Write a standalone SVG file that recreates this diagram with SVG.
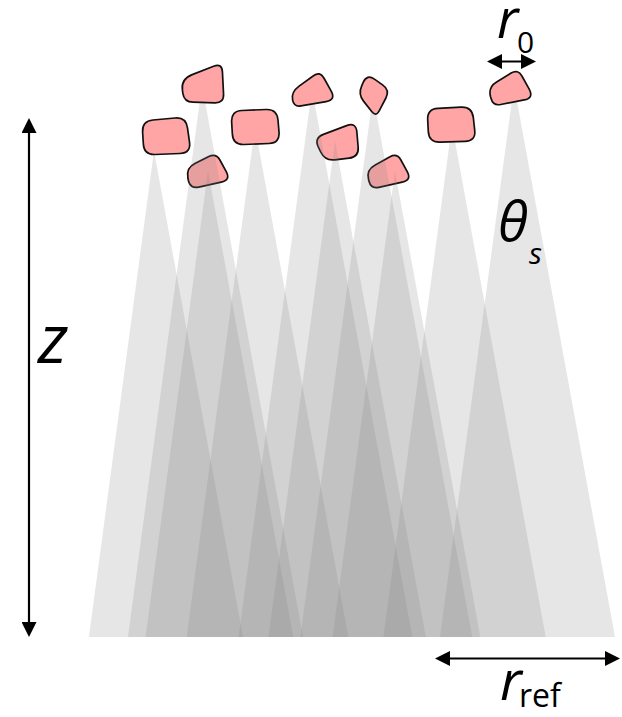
<svg xmlns="http://www.w3.org/2000/svg" width="622" height="717" viewBox="0 0 622 717">
<style>
.cone{fill:#808080;fill-opacity:0.2;stroke:none}
.blob{fill:#ffa5a5;stroke:#111;stroke-width:1.7;stroke-linejoin:round}
.dim{stroke:#000;stroke-width:2.2;fill:none}
.lbl{font-family:"Open Sans","DejaVu Sans",sans-serif;fill:#000}
.it{font-style:italic}
</style>
<defs>
<marker id="ah" viewBox="0 0 15 15" refX="12" refY="7.5" markerWidth="15" markerHeight="15" orient="auto-start-reverse" markerUnits="userSpaceOnUse">
<path d="M0,0 L15,7.5 L0,15 Z" fill="#000"/>
</marker>
</defs>
<rect width="622" height="717" fill="#fff"/>
<g id="blobs-under">
<g id="blob-D"><path class="blob" d="M187.9,177.8 Q186,168 194.9,163.5 L208.8,156.6 Q216,153 219.9,160 L226.1,171.3 Q231,180 221.2,182.1 L198.8,187.1 Q190,189 188.3,180.2 Z"/></g>
<g id="blob-G"><path class="blob" d="M318.3,147 Q314,138 323.4,134.4 L346.6,125.6 Q356,122 356.85,132 L358.15,147 Q359,157 349.1,158.2 L334.9,159.8 Q325,161 320.7,152 Z"/></g>
<g id="blob-H"><path class="blob" d="M368.6,179.7 Q366,170 374.8,165.2 L390,156.8 Q397,153 400.9,160 L407.1,171.3 Q412,180 402.2,182.1 L378.8,187.3 Q371,189 369,181.2 Z"/></g>
</g>
<g id="cones">
<polygon class="cone" points="202,85 128,637 303,637"/>
<polygon class="cone" points="154,151 88.9,637 242.9,637"/>
<polygon class="cone" points="255,127 186.7,637 348.3,637"/>
<polygon class="cone" points="208,171 145.6,637 293.3,637"/>
<polygon class="cone" points="312,89 238.6,637 412.3,637"/>
<polygon class="cone" points="373,95 300.4,637 472.2,637"/>
<polygon class="cone" points="335,141 268.5,637 425.8,637"/>
<polygon class="cone" points="395,171 332.6,637 480.3,637"/>
<polygon class="cone" points="452,125 383.4,637 545.7,637"/>
<polygon class="cone" points="514,85 440,637 615,637"/>
</g>
<g id="blobs-over">
<g id="blob-A"><path class="blob" d="M182.4,89.9 Q181,79 192.2,74.6 L213.6,66.3 Q222,63 222.45,72 L223.55,94 Q224,103 215,102.8 L193,102.2 Q184,102 182.8,93.1 Z"/></g>
<g id="blob-B"><path class="blob" d="M142.6,132 Q142,121 153,120 L175,118 Q186,117 187.5,127.9 L189.5,142.1 Q191,153 180,153.5 L155,154.5 Q144,155 143.35,144 Z"/></g>
<g id="blob-C"><path class="blob" d="M231.65,122 Q231,111 242,110.5 L266,109.5 Q277,109 278,120 L279,132 Q280,143 269,143.5 L244,144.5 Q233,145 232.35,134 Z"/></g>
<g id="blob-E"><path class="blob" d="M292.6,99.8 Q291,92 299.1,86.1 L313.5,75.7 Q320,71 323.9,78 L331.2,91.2 Q336,100 326.1,101.6 L300.9,105.9 Q294,107 292.6,100.1 Z"/></g>
<g id="blob-F"><path class="blob" d="M363.3,82.2 Q367,74 374.4,79.1 L382.6,84.9 Q390,90 385.9,98 L379.2,110.8 Q376,117 371.7,111.5 L363.5,101.1 Q358,94 361.7,85.8 Z"/></g>
<g id="blob-I"><path class="blob" d="M427.7,120 Q427,109 438,108.4 L461,107.1 Q472,106.5 473.3,117.4 L474.7,130.1 Q476,141 465,141.35 L440,142.15 Q429,142.5 428.3,131.5 Z"/></g>
<g id="blob-J"><path class="blob" d="M490.55,96.7 Q488,87 496.6,81.9 L511.1,73.1 Q518,69 521.9,76 L529.2,89.2 Q534,98 524.2,99.9 L500.8,104.5 Q493,106 491,98.2 Z"/></g>
</g>
<g id="connectors">
<line class="dim" x1="29" y1="121" x2="29" y2="634" marker-start="url(#ah)" marker-end="url(#ah)"/>
<line class="dim" x1="490" y1="61.5" x2="533" y2="61.5" marker-start="url(#ah)" marker-end="url(#ah)"/>
<line class="dim" x1="438" y1="658.5" x2="617" y2="658.5" marker-start="url(#ah)" marker-end="url(#ah)"/>
</g>
<g id="labels">
<text class="lbl it" x="38" y="363" font-size="68">z</text>
<text class="lbl it" x="497" y="38" font-size="54">r</text>
<text class="lbl" x="517" y="53" font-size="30">0</text>
<text class="lbl it" x="498" y="241" font-size="55">θ</text>
<text class="lbl it" x="529" y="264" font-size="30">s</text>
<text class="lbl it" x="500" y="700" font-size="55">r</text>
<text class="lbl" x="519" y="707" font-size="32">ref</text>
</g>
</svg>
